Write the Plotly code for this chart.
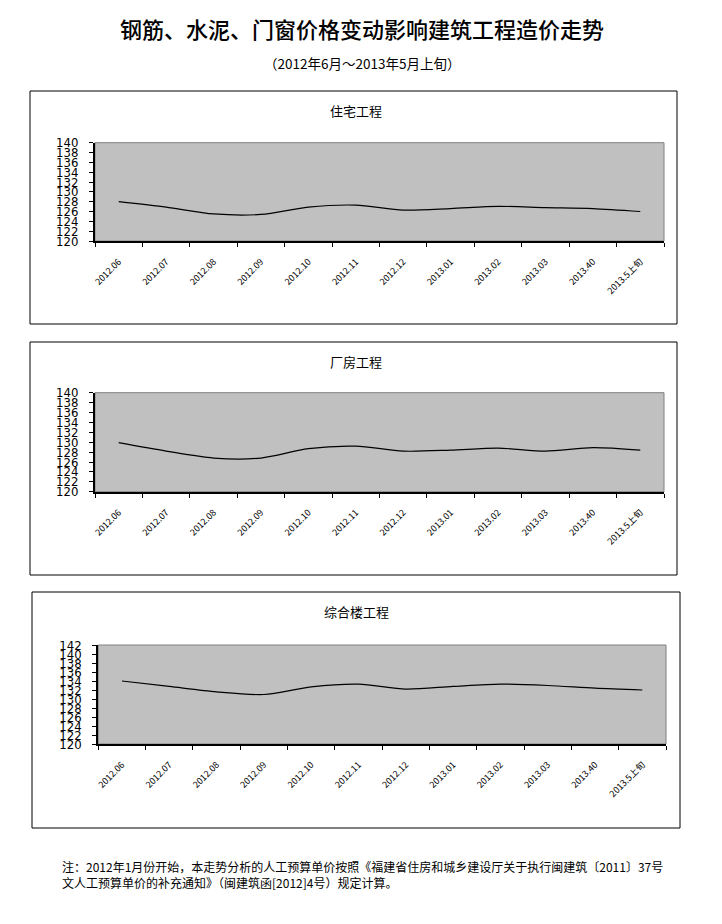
import plotly.graph_objects as go

months = ["2012.06", "2012.07", "2012.08", "2012.09", "2012.10", "2012.11",
          "2012.12", "2013.01", "2013.02", "2013.03", "2013.40", "2013.5上旬"]
residential = [128.0, 126.9, 125.5, 125.4, 126.9, 127.3, 126.3, 126.6, 127.05, 126.8, 126.6, 126.0]
factory = [129.9, 128.2, 126.8, 126.8, 128.7, 129.2, 128.2, 128.4, 128.8, 128.2, 128.9, 128.4]
complex_bldg = [134.0, 132.8, 131.6, 131.0, 132.7, 133.3, 132.2, 132.8, 133.3, 133.0, 132.4, 132.0]
panel_titles = ["住宅工程", "厂房工程", "综合楼工程"]
y_ranges = [(120, 140), (120, 140), (120, 142)]

W, H = 722, 924
def px(x):
    return x / W
def py(y):
    return 1 - y / H

CJK = "Noto Sans CJK SC, Liberation Sans, sans-serif"
NUM = "Liberation Sans Narrow, DejaVu Sans Condensed, Liberation Sans, sans-serif"

# pixel geometry of the panels (plot areas and outer boxes)
plots = [(95, 664, 142.7, 241), (95, 664, 392.7, 491.7), (98.3, 666, 645, 744)]
boxes = [(30, 677, 91, 324), (30, 677, 342, 575), (32, 680, 592, 828)]
title_y = [110, 361, 611]

fig = go.Figure()
series = [residential, factory, complex_bldg]
layout = {}
shapes = []
annotations = []
for i, (vals, (x0, x1, y0, y1)) in enumerate(zip(series, plots)):
    n = "" if i == 0 else str(i + 1)
    fig.add_trace(go.Scatter(x=months, y=vals, mode="lines",
                             line=dict(color="black", width=1.2, shape="spline", smoothing=0.8),
                             xaxis="x" + n, yaxis="y" + n, showlegend=False,
                             hoverinfo="skip"))
    layout["xaxis" + n] = dict(domain=[px(x0), px(x1)], anchor="y" + n,
                               type="category", tickson="boundaries", automargin=False,
                               range=[-0.5, len(months) - 0.5],
                               ticks="outside", ticklen=4, tickcolor="black",
                               showline=True, linecolor="black", linewidth=2,
                               showgrid=False, tickangle=-45,
                               tickfont=dict(family=CJK, size=9, color="black"),
                               ticklabelstandoff=10, fixedrange=True)
    lo, hi = y_ranges[i]
    layout["yaxis" + n] = dict(domain=[py(y1), py(y0)], anchor="x" + n, automargin=False,
                               range=[lo, hi], dtick=2, tick0=120,
                               ticks="outside", ticklen=4, tickcolor="black",
                               showline=True, linecolor="black", linewidth=2,
                               showgrid=False, zeroline=False,
                               tickfont=dict(family=NUM, size=13, color="black"),
                               ticklabelstandoff=8, fixedrange=True)
    shapes.append(dict(type="rect", xref="x" + n + " domain", yref="y" + n + " domain",
                       x0=0, x1=1, y0=0, y1=1, line=dict(color="#808080", width=1),
                       layer="below"))
    bx0, bx1, by0, by1 = boxes[i]
    shapes.append(dict(type="rect", xref="paper", yref="paper",
                       x0=px(bx0), x1=px(bx1), y0=py(by1), y1=py(by0),
                       line=dict(color="black", width=1)))
    annotations.append(dict(text=panel_titles[i], x=px(356), y=py(title_y[i]),
                            xref="paper", yref="paper", showarrow=False,
                            font=dict(family=CJK, size=13, color="black"),
                            xanchor="center", yanchor="middle"))

annotations.append(dict(text="钢筋、水泥、门窗价格变动影响建筑工程造价走势",
                        x=px(362), y=py(28), xref="paper", yref="paper", showarrow=False,
                        font=dict(family=CJK, size=22, color="black", weight=500),
                        xanchor="center", yanchor="middle"))
annotations.append(dict(text="（2012年6月～2013年5月上旬）",
                        x=px(362), y=py(63), xref="paper", yref="paper", showarrow=False,
                        font=dict(family=CJK, size=13.5, color="black"),
                        xanchor="center", yanchor="middle"))
notes = ["注：2012年1月份开始，本走势分析的人工预算单价按照《福建省住房和城乡建设厅关于执行闽建筑〔2011〕37号",
         "文人工预算单价的补充通知》（闽建筑函[2012]4号）规定计算。"]
for k, t in enumerate(notes):
    annotations.append(dict(text=t, x=px(60), y=py(866 + 16 * k), xref="paper", yref="paper",
                            showarrow=False, font=dict(family=CJK, size=12, color="black"),
                            xanchor="left", yanchor="middle"))

fig.update_layout(width=W, height=H, margin=dict(l=0, r=0, t=0, b=0, autoexpand=False),
                  paper_bgcolor="white", plot_bgcolor="#C0C0C0",
                  shapes=shapes, annotations=annotations, **layout)

fig.write_html("out.html", post_script="document.body.style.margin='0';",
               config={"displayModeBar": False})
